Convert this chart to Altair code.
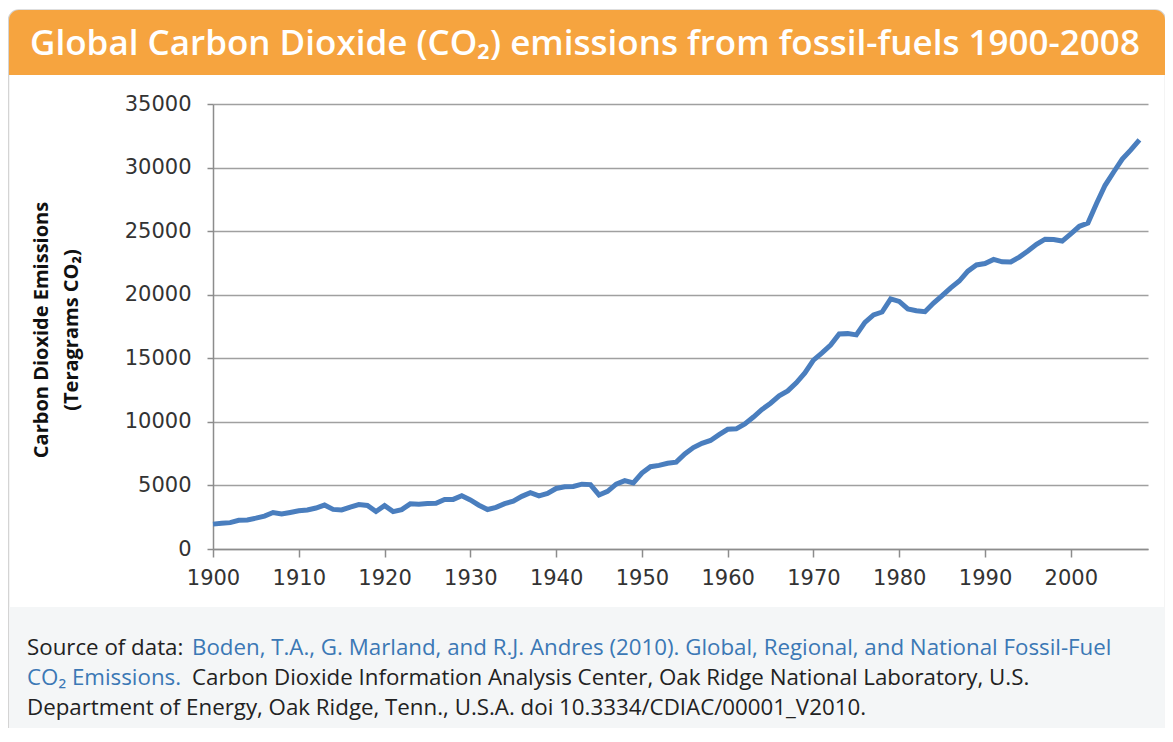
import altair as alt
import pandas as pd

years = list(range(1900, 2009))
emissions = [
    1957, 2023, 2074, 2261, 2286, 2429, 2590, 2873, 2748, 2876,
    3001, 3063, 3221, 3455, 3114, 3070, 3301, 3499, 3430, 2953,
    3415, 2942, 3096, 3554, 3528, 3572, 3602, 3891, 3902, 4195,
    3858, 3444, 3103, 3272, 3565, 3763, 4140, 4430, 4184, 4367,
    4760, 4888, 4917, 5097, 5067, 4250, 4536, 5100, 5382, 5199,
    5972, 6474, 6577, 6745, 6833, 7482, 7977, 8317, 8537, 8991,
    9413, 9453, 9841, 10380, 10974, 11468, 12047, 12432, 13066, 13850,
    14850, 15418, 16034, 16906, 16939, 16840, 17822, 18415, 18639, 19672,
    19474, 18877, 18734, 18664, 19346, 19928, 20544, 21075, 21856, 22339,
    22449, 22779, 22585, 22578, 22959, 23442, 23970, 24369, 24340, 24219,
    24787, 25381, 25633, 27172, 28605, 29653, 30668, 31386, 32181,
]
y_ticks = [0, 5000, 10000, 15000, 20000, 25000, 30000, 35000]
x_ticks = list(range(1900, 2001, 10))

title_text = "Global Carbon Dioxide (CO\u2082) emissions from fossil-fuels 1900-2008"
ylabel_1 = "Carbon Dioxide Emissions"
ylabel_2 = "(Teragrams  CO\u2082)"
src_1a = "Source of data:"
src_1b = "Boden, T.A., G. Marland, and R.J. Andres (2010). Global, Regional, and National Fossil-Fuel"
src_2a = "CO\u2082 Emissions."
src_2b = "Carbon Dioxide Information Analysis Center, Oak Ridge National Laboratory, U.S."
src_3 = "Department of Energy, Oak Ridge, Tenn., U.S.A. doi 10.3334/CDIAC/00001_V2010."

df = pd.DataFrame({"year": years, "co2": emissions})
one = alt.Data(values=[{"a": 1}])

W, H = 935, 445
FONT = "Open Sans"
BLUE = "#3B78B5"
DARK = "#222222"

card = alt.Chart(one).mark_rect(
    x=-204.5, x2=952.5, y=-94, y2=640, fill="transparent", stroke="#D4D4D4",
    strokeWidth=1.5, cornerRadiusTopLeft=10, cornerRadiusTopRight=10
).encode(opacity=alt.value(1))
footer = alt.Chart(one).mark_rect(
    x=-203.5, x2=951.5, y=503, y2=640, fill="#F4F6F7"
).encode(opacity=alt.value(1))
header = alt.Chart(one).mark_rect(
    x=-204, x2=952, y=-94, y2=-29, fill="#F6A43F",
    cornerRadiusTopLeft=10, cornerRadiusTopRight=10
).encode(opacity=alt.value(1))
title = alt.Chart(one).mark_text(
    x=372, y=-60, text=title_text, font=FONT, fontSize=35, fontWeight=600,
    color="white", align="center", baseline="middle"
).encode(opacity=alt.value(1))

yl1 = alt.Chart(one).mark_text(
    x=-171, y=226, text=ylabel_1, font=FONT, fontSize=20, fontWeight="bold",
    color="#111", angle=270, align="center", baseline="middle"
).encode(opacity=alt.value(1))
yl2 = alt.Chart(one).mark_text(
    x=-141, y=226, text=ylabel_2, font=FONT, fontSize=20, fontWeight="bold",
    color="#111", angle=270, align="center", baseline="middle"
).encode(opacity=alt.value(1))

def ftext(x, y, t, c):
    return alt.Chart(one).mark_text(
        x=x, y=y, text=t, font=FONT, fontSize=22.3, color=c,
        align="left", baseline="middle"
    ).encode(opacity=alt.value(1))

f1a = ftext(-186, 544, src_1a, DARK)
f1b = ftext(-21, 544, src_1b, BLUE)
f2a = ftext(-186, 574, src_2a, BLUE)
f2b = ftext(-21, 574, src_2b, DARK)
f3 = ftext(-186, 604, src_3, DARK)

line = alt.Chart(df).mark_line(color="#4A7EBE", strokeWidth=5).encode(
    x=alt.X("year:Q", scale=alt.Scale(domain=[1900, 2009], nice=False, zero=False),
            axis=alt.Axis(values=x_ticks, format="d", grid=False, title=None,
                          tickSize=8, labelPadding=10, labelFlush=False)),
    y=alt.Y("co2:Q", scale=alt.Scale(domain=[0, 35000], nice=False),
            axis=alt.Axis(values=y_ticks, format="d", grid=True, title=None,
                          tickSize=6, labelPadding=16)),
)

chart = alt.layer(
    card, footer, header, title, yl1, yl2, f1a, f1b, f2a, f2b, f3, line
).properties(
    width=W, height=H,
    autosize=alt.AutoSizeParams(type="none"),
    padding={"left": 205, "top": 96, "right": 17, "bottom": 179},
).configure_view(stroke=None).configure_axis(
    labelFont="DejaVu Sans", labelFontSize=21, labelColor="#333333",
    domainColor="#8C8C8C", tickColor="#8C8C8C", domainWidth=1.5, tickWidth=1.5,
    gridColor="#A0A0A0", gridWidth=1.5,
)

chart.save("out.html", embed_options={"renderer": "svg", "actions": False})
